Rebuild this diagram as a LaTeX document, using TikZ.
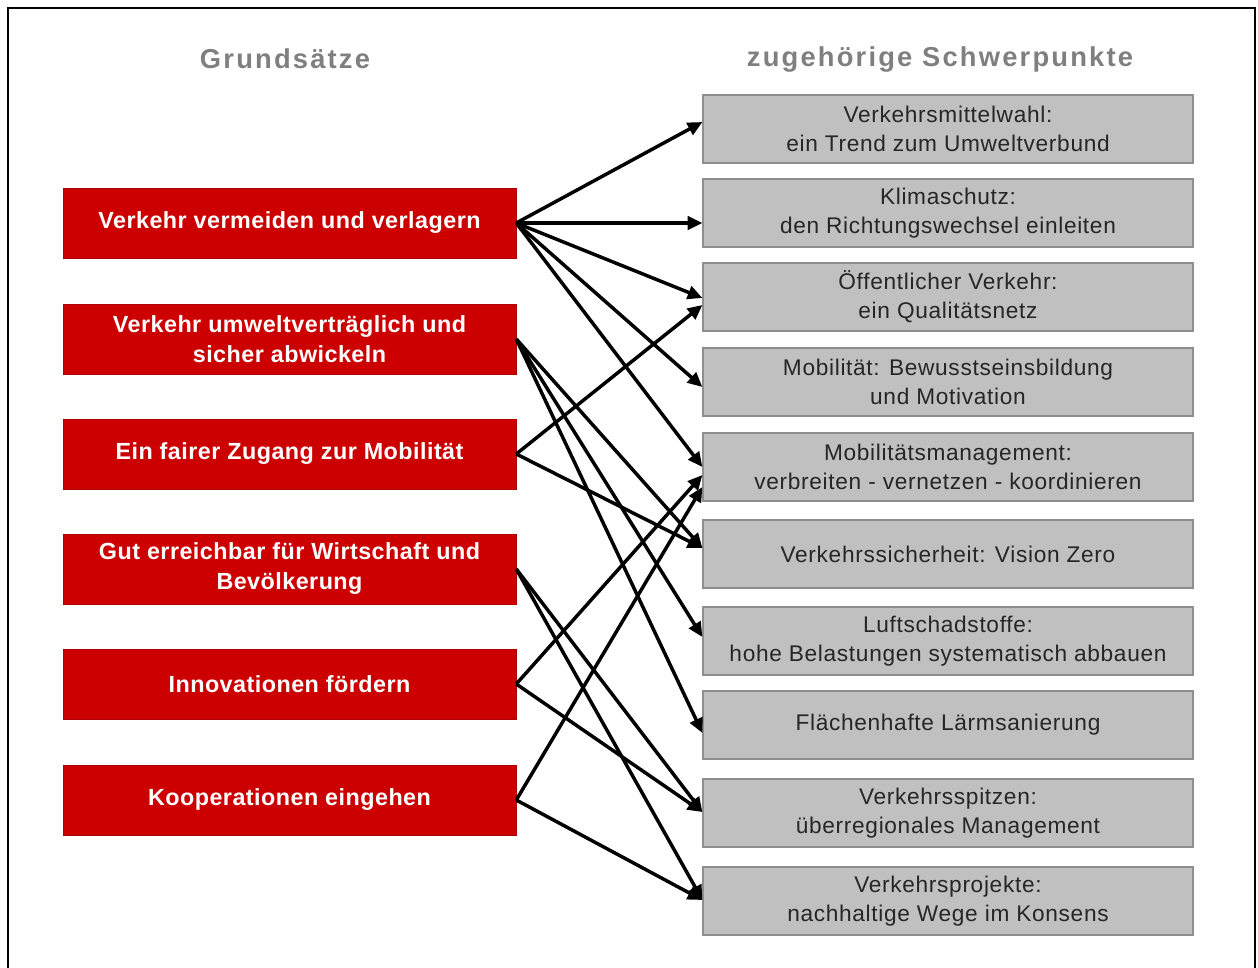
\documentclass[tikz,border=0pt]{standalone}
\usepackage{fontspec}
\setmainfont{Liberation Sans}
\usetikzlibrary{arrows.meta,calc}

\definecolor{grundred}{HTML}{CC0000}
\definecolor{punktgray}{HTML}{C0C0C0}
\definecolor{randgray}{HTML}{8E8E8E}
\definecolor{kopfgray}{HTML}{7F7F7F}

\tikzset{
	grund/.style={draw=grundred!85!black, fill=grundred, text=white, inner sep=0pt,
		minimum width=339.75pt, minimum height=52.5pt, align=center,
		font=\fontsize{17.5}{22.5}\selectfont\bfseries\addfontfeatures{LetterSpace=2}},
	punkt/.style={draw=randgray, line width=0.9pt, fill=punktgray, text=black!85, inner sep=0pt,
		minimum width=367.5pt, minimum height=51pt, align=center,
		font=\fontsize{17}{21.75}\selectfont\addfontfeatures{LetterSpace=3}},
	kopf/.style={text=kopfgray, font=\fontsize{20.5}{22}\selectfont\bfseries\addfontfeatures{LetterSpace=8}},
	link/.style={line width=2.6pt, -{Triangle[length=11pt,width=10pt]}}
}

\begin{document}
\begin{tikzpicture}[x=0.75pt, y=-0.75pt]
		\useasboundingbox (0, 0) rectangle (1258, 968);
		\draw [line width=1pt] (8, 968) -- (8, 8) -- (1255, 8) -- (1255, 968);

		\node [kopf] (kopfl) at (285, 59) {Grundsätze};
		\node [kopf] (kopfr) at (940, 59) {zugehörige Schwerpunkte};

		\node [grund] (l1) at (289.5, 223) {Verkehr vermeiden und verlagern};
		\node [grund] (l2) at (289.5, 339) {Verkehr umweltverträglich und\\sicher abwickeln};
		\node [grund] (l3) at (289.5, 454) {Ein fairer Zugang zur Mobilität};
		\node [grund] (l4) at (289.5, 569) {Gut erreichbar für Wirtschaft und\\Bevölkerung};
		\node [grund] (l5) at (289.5, 684) {Innovationen fördern};
		\node [grund] (l6) at (289.5, 800) {Kooperationen eingehen};

		\node [punkt] (r1) at (948, 129) {Verkehrsmittelwahl:\\ein Trend zum Umweltverbund};
		\node [punkt] (r2) at (948, 213) {Klimaschutz:\\den Richtungswechsel einleiten};
		\node [punkt] (r3) at (948, 297) {Öffentlicher Verkehr:\\ein Qualitätsnetz};
		\node [punkt] (r4) at (948, 382) {Mobilität: Bewusstseinsbildung\\und Motivation};
		\node [punkt] (r5) at (948, 467) {Mobilitätsmanagement:\\verbreiten - vernetzen - koordinieren};
		\node [punkt] (r6) at (948, 554) {Verkehrssicherheit: Vision Zero};
		\node [punkt] (r7) at (948, 641) {Luftschadstoffe:\\hohe Belastungen systematisch abbauen};
		\node [punkt] (r8) at (948, 725) {Flächenhafte Lärmsanierung};
		\node [punkt] (r9) at (948, 813) {Verkehrsspitzen:\\überregionales Management};
		\node [punkt] (r10) at (948, 901) {Verkehrsprojekte:\\nachhaltige Wege im Konsens};

		\draw [link] (l1.east) -- ($(r1.west)+(0,-7)$);
		\draw [link] (l1.east) -- ($(r2.west)+(0,10)$);
		\draw [link] (l1.east) -- ($(r3.west)+(0,1)$);
		\draw [link] (l1.east) -- ($(r4.west)+(0,5)$);
		\draw [link] (l1.east) -- (r5.west);

		\draw [link] (l2.east) -- ($(r6.west)+(0,-6)$);
		\draw [link] (l2.east) -- ($(r7.west)+(0,-4)$);
		\draw [link] (l2.east) -- ($(r8.west)+(0,8)$);

		\draw [link] (l3.east) -- ($(r3.west)+(0,8)$);
		\draw [link] (l3.east) -- ($(r6.west)+(0,-6)$);

		\draw [link] (l4.east) -- ($(r9.west)+(0,-1)$);
		\draw [link] (l4.east) -- ($(r10.west)+(0,-1)$);

		\draw [link] (l5.east) -- ($(r5.west)+(0,8)$);
		\draw [link] (l5.east) -- ($(r9.west)+(0,-1)$);

		\draw [link] (l6.east) -- ($(r5.west)+(0,20)$);
		\draw [link] (l6.east) -- ($(r10.west)+(0,-1)$);
	\end{tikzpicture}
\end{document}
